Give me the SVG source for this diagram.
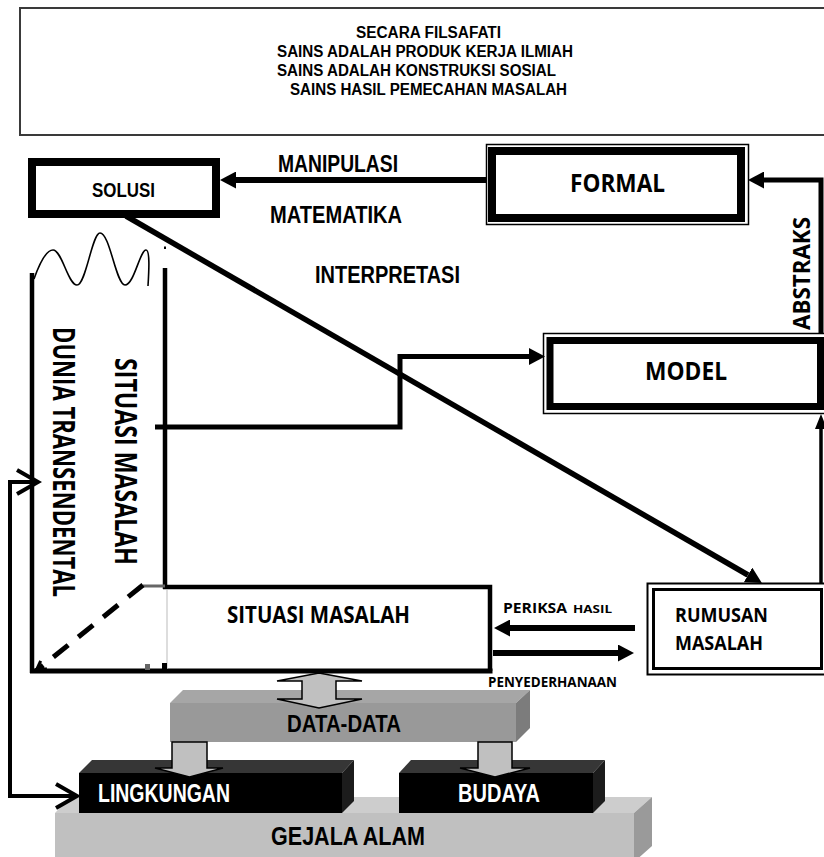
<svg xmlns="http://www.w3.org/2000/svg" width="824" height="857" viewBox="0 0 824 857">
<style>
.n{font-family:"Liberation Sans",Arial,sans-serif;font-weight:bold;fill:#000}
.c{font-family:"Open Sans","Noto Sans","Liberation Sans",sans-serif;font-weight:bold;fill:#000}
.w{fill:#fff}
.thick{fill:#fff;stroke:#000}
.ln{fill:none;stroke:#000;stroke-linejoin:miter}
.blk{fill:#c0c0c0;stroke:#000;stroke-width:1.5;stroke-linejoin:miter}
</style>
<defs>
<marker id="tri" viewBox="0 0 16 17" refX="0" refY="8.5" markerWidth="16" markerHeight="17" markerUnits="userSpaceOnUse" orient="auto"><path d="M0,0 L16,8.5 L0,17 z" fill="#000"/></marker>
<marker id="triS" viewBox="0 0 15 12" refX="0" refY="6" markerWidth="15" markerHeight="12" markerUnits="userSpaceOnUse" orient="auto"><path d="M0,0 L15,6 L0,12 z" fill="#000"/></marker>
<marker id="chev" viewBox="-3 -3 28 30" refX="21" refY="12" markerWidth="28" markerHeight="30" markerUnits="userSpaceOnUse" orient="auto-start-reverse"><path d="M0,0 L21,12 L0,24" fill="none" stroke="#000" stroke-width="4"/></marker>
<marker id="chevS" viewBox="-3 -3 16 16" refX="10" refY="5" markerWidth="16" markerHeight="16" markerUnits="userSpaceOnUse" orient="auto"><path d="M0,0 L10,5 L0,10" fill="none" stroke="#000" stroke-width="3"/></marker>
</defs>

<g id="header">
<rect x="20" y="8" width="820" height="127" fill="#fff" stroke="#3a3a3a" stroke-width="2"/>
<text class="n" font-size="16" x="356" y="38" textLength="145" lengthAdjust="spacingAndGlyphs">SECARA FILSAFATI</text>
<text class="n" font-size="16" x="277" y="57" textLength="296" lengthAdjust="spacingAndGlyphs">SAINS ADALAH PRODUK KERJA ILMIAH</text>
<text class="n" font-size="16" x="277" y="76" textLength="279" lengthAdjust="spacingAndGlyphs">SAINS ADALAH KONSTRUKSI SOSIAL</text>
<text class="n" font-size="16" x="290" y="95" textLength="277" lengthAdjust="spacingAndGlyphs">SAINS HASIL PEMECAHAN MASALAH</text>
</g>

<g id="labels">
<text class="n" font-size="23" x="278" y="172" textLength="120" lengthAdjust="spacingAndGlyphs">MANIPULASI</text>
<text class="n" font-size="23" x="270" y="223" textLength="132" lengthAdjust="spacingAndGlyphs">MATEMATIKA</text>
<text class="n" font-size="23" x="315" y="283" textLength="145" lengthAdjust="spacingAndGlyphs">INTERPRETASI</text>
<text class="c" font-size="24" transform="translate(810,273.5) rotate(-90)" text-anchor="middle" textLength="113" lengthAdjust="spacingAndGlyphs">ABSTRAKS</text>
<text class="c" font-size="14" x="503" y="613" textLength="64" lengthAdjust="spacingAndGlyphs">PERIKSA</text>
<text class="c" font-size="10.5" x="573" y="613" textLength="39" lengthAdjust="spacingAndGlyphs">HASIL</text>
<text class="c" font-size="14" x="488" y="687" textLength="129" lengthAdjust="spacingAndGlyphs">PENYEDERHANAAN</text>
</g>

<g id="solusi">
<rect class="thick" x="32" y="162" width="184" height="52" stroke-width="8"/>
<text class="n" font-size="20" x="92" y="197" textLength="63" lengthAdjust="spacingAndGlyphs">SOLUSI</text>
</g>

<g id="formal">
<rect x="486.5" y="144.5" width="262" height="80" fill="#fff" stroke="#000" stroke-width="1.5"/>
<rect class="thick" x="492" y="151" width="249" height="67" stroke-width="8"/>
<text class="c" font-size="25" x="617.5" y="192" text-anchor="middle" textLength="95" lengthAdjust="spacingAndGlyphs">FORMAL</text>
</g>

<g id="model">
<rect x="543.5" y="333.5" width="290" height="80" fill="#fff" stroke="#000" stroke-width="1.5"/>
<rect class="thick" x="550" y="340.5" width="270.5" height="66" stroke-width="7"/>
<text class="c" font-size="25" x="686" y="380" text-anchor="middle" textLength="82" lengthAdjust="spacingAndGlyphs">MODEL</text>
</g>

<g id="rumusan-masalah">
<rect x="647.5" y="583.5" width="190" height="91" fill="#fff" stroke="#000" stroke-width="2"/>
<rect x="653.5" y="589.5" width="168" height="79" fill="#fff" stroke="#000" stroke-width="3"/>
<text class="c" font-size="19.5" x="675" y="622" textLength="93" lengthAdjust="spacingAndGlyphs">RUMUSAN</text>
<text class="c" font-size="19.5" x="675" y="650" textLength="88" lengthAdjust="spacingAndGlyphs">MASALAH</text>
</g>

<g id="dunia-transendental">
<path class="ln" stroke-width="1.6" d="M34,279 C40,262 47,250 53,250 C62,250 68,285 77,285 C86,285 92,233 100,233 C110,233 116,285 125,285 C134,285 140,250 146,250 C150,250 149,270 148,286"/>
<line class="ln" x1="32" y1="273" x2="32" y2="673" stroke-width="4.5"/>
<text class="c" font-size="30" transform="translate(53,462) rotate(90)" text-anchor="middle" textLength="270" lengthAdjust="spacingAndGlyphs">DUNIA TRANSENDENTAL</text>
</g>

<g id="situasi-masalah-vertikal">
<rect x="164" y="246.5" width="2" height="2.5" fill="#000"/>
<line class="ln" x1="165" y1="268" x2="165" y2="589" stroke-width="4.5"/>
<text class="c" font-size="30" transform="translate(115,461.5) rotate(90)" text-anchor="middle" textLength="207" lengthAdjust="spacingAndGlyphs">SITUASI  MASALAH</text>
</g>

<g id="situasi-masalah">
<path class="ln" stroke-width="4.5" d="M163,587 H490 V671"/>
<line class="ln" x1="30" y1="671" x2="492.5" y2="671" stroke-width="5"/>
<line x1="167" y1="589" x2="167" y2="669" stroke="#bbb" stroke-width="1"/>
<rect x="143" y="584.5" width="22" height="3" fill="#666"/>
<rect x="145" y="664" width="5" height="6" fill="#666"/>
<rect x="162" y="663" width="5" height="7" fill="#000"/>
<text class="c" font-size="23" x="227" y="623" textLength="183" lengthAdjust="spacingAndGlyphs">SITUASI MASALAH</text>
</g>

<g id="gejala-alam">
<path d="M55,813 L70,797 L652,797 L634,813 Z" fill="#cdcdcd"/>
<path d="M634,813 L652,797 L652,846 L634,862 Z" fill="#9a9a9a"/>
<rect x="55" y="813" width="579" height="50" fill="#c0c0c0"/>
<text class="n" font-size="25" x="271" y="845" textLength="154" lengthAdjust="spacingAndGlyphs">GEJALA ALAM</text>
</g>

<g id="lingkungan">
<path d="M79,773 L92,760 L354,760 L342,773 Z" fill="#363636"/>
<path d="M342,773 L354,760 L354,801 L342,813 Z" fill="#1c1c1c"/>
<rect x="79" y="773" width="263" height="40" fill="#000"/>
<text class="n w" font-size="25" x="98" y="802" textLength="132" lengthAdjust="spacingAndGlyphs">LINGKUNGAN</text>
</g>

<g id="budaya">
<path d="M399,773 L411,760 L605,760 L593,773 Z" fill="#363636"/>
<path d="M593,773 L605,760 L605,801 L593,813 Z" fill="#1c1c1c"/>
<rect x="399" y="773" width="194" height="40" fill="#000"/>
<text class="n w" font-size="25" x="458" y="802" textLength="82" lengthAdjust="spacingAndGlyphs">BUDAYA</text>
</g>

<g id="data-data">
<path d="M170,703 L183,690 L530,690 L516,703 Z" fill="#a6a6a6"/>
<path d="M516,703 L530,690 L530,728 L516,742 Z" fill="#7c7c7c"/>
<rect x="170" y="703" width="346" height="39" fill="#999"/>
<text class="n" font-size="23" x="287" y="732" textLength="114" lengthAdjust="spacingAndGlyphs">DATA-DATA</text>
</g>

<g id="connectors">
<line class="ln" x1="486" y1="180" x2="236" y2="180" stroke-width="6" marker-end="url(#tri)"/>
<path class="ln" d="M821,333 V180 H764" stroke-width="5" marker-end="url(#tri)"/>
<line class="ln" x1="821" y1="583" x2="821" y2="429" stroke-width="3.5" marker-end="url(#triS)"/>
<path class="ln" d="M155,427 H400 V356.5 H529" stroke-width="5" marker-end="url(#tri)"/>
<line class="ln" x1="126" y1="216" x2="748" y2="575" stroke-width="5.5" marker-end="url(#tri)"/>
<line class="ln" x1="635" y1="628" x2="510" y2="628" stroke-width="6" marker-end="url(#tri)"/>
<line class="ln" x1="493" y1="653" x2="618" y2="653" stroke-width="6" marker-end="url(#tri)"/>
<path class="ln" d="M38,482 H10 V796 H77" stroke-width="4" marker-start="url(#chev)" marker-end="url(#chev)"/>
<line class="ln" x1="143" y1="585" x2="36" y2="671" stroke-width="5" stroke-dasharray="19 13" marker-end="url(#chevS)"/>
<polygon class="blk" points="319,673 362,681 336,681 336,699 362,699 319,708 277,699 302,699 302,681 277,681"/>
<polygon class="blk" points="172,742 207,742 207,768 223,768 189.5,777 155,768 172,768"/>
<polygon class="blk" points="478,742 512,742 512,768 530,768 495,777 460,768 478,768"/>
</g>
</svg>
